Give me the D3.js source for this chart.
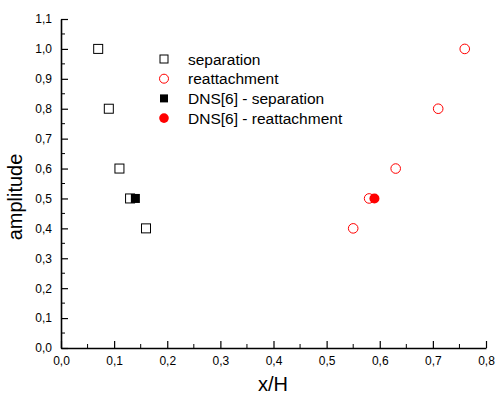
<!DOCTYPE html>
<html>
<head>
<meta charset="utf-8">
<script src="https://cdn.jsdelivr.net/npm/d3@7"></script>
<style>
  body { margin: 0; background: #fff; }
  text { font-family: "Liberation Sans", Arial, sans-serif; }
</style>
</head>
<body>
<svg width="496" height="396"></svg>
<script>
  // data
  const sepX = [0.07, 0.09, 0.11, 0.13, 0.16];
  const sepY = [1.0, 0.8, 0.6, 0.5, 0.4];
  const reatX = [0.76, 0.71, 0.63, 0.58, 0.55];
  const reatY = [1.0, 0.8, 0.6, 0.5, 0.4];
  const dnsSepX = [0.14], dnsSepY = [0.5];
  const dnsReatX = [0.59], dnsReatY = [0.5];
  const legendLabels = ["separation", "reattachment", "DNS[6] - separation", "DNS[6] - reattachment"];

  const svg = d3.select("svg");
  const fmt = d => d3.format(".1f")(d).replace(".", ",");

  const x = d3.scaleLinear().domain([0, 0.8]).range([61, 486]);
  const y = d3.scaleLinear().domain([0, 1.1]).range([348, 19]);

  // minor ticks
  const xMinor = d3.range(0.05, 0.8, 0.1);
  const yMinor = d3.range(0.05, 1.1, 0.1);

  const xAxis = svg.append("g").attr("transform", "translate(0,348)")
    .call(d3.axisBottom(x).tickValues(d3.range(0, 0.81, 0.1)).tickFormat(fmt).tickSizeInner(-7).tickSizeOuter(0).tickPadding(8));
  xAxis.selectAll(".minor").data(xMinor).enter().append("line")
    .attr("x1", d => x(d)).attr("x2", d => x(d)).attr("y1", 0).attr("y2", -4)
    .attr("stroke", "#000");

  const yAxis = svg.append("g").attr("transform", "translate(61,0)")
    .call(d3.axisLeft(y).tickValues(d3.range(0, 1.11, 0.1)).tickFormat(fmt).tickSizeInner(-7).tickSizeOuter(0).tickPadding(9));
  yAxis.selectAll(".minor").data(yMinor).enter().append("line")
    .attr("y1", d => y(d)).attr("y2", d => y(d)).attr("x1", 0).attr("x2", 4)
    .attr("stroke", "#000");

  svg.selectAll(".domain").attr("stroke-width", 1.6);
  svg.selectAll(".tick line").attr("stroke-width", 1.2);
  svg.selectAll(".tick text").attr("font-size", 12).attr("fill", "#000");

  // axis titles
  svg.append("text").attr("x", 273).attr("y", 391).attr("text-anchor", "middle")
    .attr("font-size", 20).text("x/H");
  svg.append("text").attr("transform", "translate(22,197) rotate(-90)").attr("text-anchor", "middle")
    .attr("font-size", 20).text("amplitude");

  // points
  svg.selectAll(".sep").data(d3.zip(sepX, sepY)).enter().append("rect")
    .attr("x", d => x(d[0]) - 4.5).attr("y", d => y(d[1]) - 4.5)
    .attr("width", 9).attr("height", 9).attr("fill", "#fff").attr("stroke", "#000").attr("stroke-width", 1);
  svg.selectAll(".dsep").data(d3.zip(dnsSepX, dnsSepY)).enter().append("rect")
    .attr("x", d => x(d[0]) - 4.5).attr("y", d => y(d[1]) - 4.5)
    .attr("width", 9).attr("height", 9).attr("fill", "#000");
  svg.selectAll(".reat").data(d3.zip(reatX, reatY)).enter().append("circle")
    .attr("cx", d => x(d[0])).attr("cy", d => y(d[1])).attr("r", 4.8)
    .attr("fill", "#fff").attr("stroke", "#ff0000").attr("stroke-width", 1);
  svg.selectAll(".dreat").data(d3.zip(dnsReatX, dnsReatY)).enter().append("circle")
    .attr("cx", d => x(d[0])).attr("cy", d => y(d[1])).attr("r", 5)
    .attr("fill", "#ff0000");

  // legend
  const leg = svg.append("g");
  legendLabels.forEach((t, i) => {
    const ly = 59 + i * 19.7;
    if (i === 0) leg.append("rect").attr("x", 160).attr("y", ly - 4).attr("width", 8).attr("height", 8)
      .attr("fill", "#fff").attr("stroke", "#000");
    if (i === 1) leg.append("circle").attr("cx", 164).attr("cy", ly).attr("r", 4.5)
      .attr("fill", "#fff").attr("stroke", "#ff0000");
    if (i === 2) leg.append("rect").attr("x", 160).attr("y", ly - 4).attr("width", 8).attr("height", 8)
      .attr("fill", "#000");
    if (i === 3) leg.append("circle").attr("cx", 164).attr("cy", ly).attr("r", 4.8)
      .attr("fill", "#ff0000");
    leg.append("text").attr("x", 188).attr("y", ly + 5.5).attr("font-size", 15.5).text(t);
  });
</script>
</body>
</html>
